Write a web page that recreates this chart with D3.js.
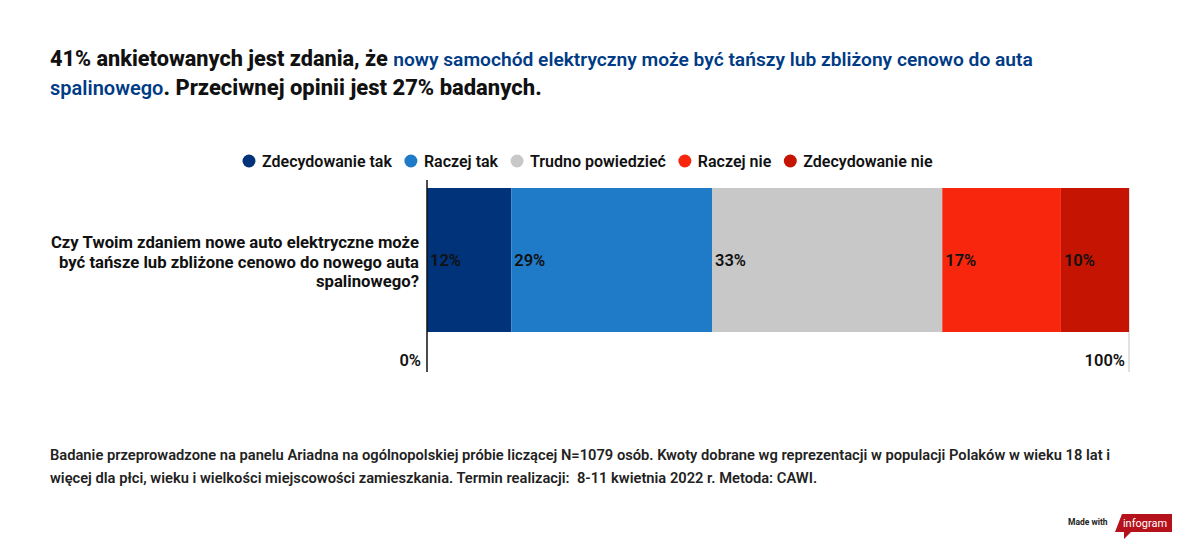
<!DOCTYPE html>
<html>
<head>
<meta charset="utf-8">
<script src="https://cdn.jsdelivr.net/npm/d3@7"></script>
<style>
  body { margin: 0; background: #fff; }
  svg { font-family: Roboto, "Noto Sans", sans-serif; }
  text { white-space: pre; }
</style>
</head>
<body>
<svg id="chart" width="1200" height="547"></svg>
<script>
const categories = ["Czy Twoim zdaniem nowe auto elektryczne może być tańsze lub zbliżone cenowo do nowego auta spalinowego?"];
const seriesNames = ["Zdecydowanie tak", "Raczej tak", "Trudno powiedzieć", "Raczej nie", "Zdecydowanie nie"];
const seriesValues = [12, 28.6, 32.8, 16.9, 9.7];
const seriesColors = ["#00337a", "#1f7ac8", "#c8c8c8", "#f9260e", "#c61402"];
const tickLabels = ["0%", "100%"];
const categoryLines = ["Czy Twoim zdaniem nowe auto elektryczne może", "być tańsze lub zbliżone cenowo do nowego auta", "spalinowego?"];

const svg = d3.select("#chart");

// Title
const title = svg.append("text").attr("x", 50).attr("y", 66)
  .attr("font-size", 20).attr("font-weight", 800).attr("fill", "#111");
title.append("tspan").attr("font-size", 21.7).text("41% ankietowanych jest zdania, że ");
title.append("tspan").attr("fill", "#003b85").attr("font-size", 19.2).attr("font-weight", 650).text("nowy samochód elektryczny może być tańszy lub zbliżony cenowo do auta");
const title2 = svg.append("text").attr("x", 50).attr("y", 95)
  .attr("font-size", 20).attr("font-weight", 800).attr("fill", "#111");
title2.append("tspan").attr("fill", "#003b85").attr("font-weight", 650).text("spalinowego");
title2.append("tspan").attr("font-size", 22).text(". Przeciwnej opinii jest 27% badanych.");

// Legend
const legend = svg.append("g");
let lx = 249;
seriesNames.forEach((name, i) => {
  legend.append("circle").attr("cx", lx).attr("cy", 161).attr("r", 6.5).attr("fill", seriesColors[i]);
  const t = legend.append("text").attr("x", lx + 13).attr("y", 167)
    .attr("font-size", 16).attr("font-weight", 600).attr("fill", "#111").text(name);
  lx += 13 + t.node().getComputedTextLength() + 19;
});

// Scales
const x = d3.scaleLinear().domain([0, 100]).range([427, 1129]);
const y = d3.scaleBand().domain(categories).range([188, 332]).padding(0);

// Stack
const row = {};
seriesNames.forEach((n, i) => row[n] = seriesValues[i]);
const stack = d3.stack().keys(seriesNames)([row]);

// Right gridline
svg.append("line").attr("x1", x(100)).attr("x2", x(100)).attr("y1", 188).attr("y2", 372)
  .attr("stroke", "#d9d9d9").attr("stroke-width", 1.5);

const bars = svg.append("g");
stack.forEach((s, i) => {
  const d = s[0];
  bars.append("rect")
    .attr("x", x(d[0])).attr("y", y(categories[0]))
    .attr("width", x(d[1]) - x(d[0])).attr("height", y.bandwidth())
    .attr("fill", seriesColors[i]);
  bars.append("text")
    .attr("x", x(d[0]) + 3).attr("y", y(categories[0]) + y.bandwidth() / 2 + 6)
    .attr("font-size", 16.5).attr("font-weight", 600).attr("fill", "#111")
    .text(d3.format(".0f")(d[1] - d[0]) + "%");
});

// Axis line
svg.append("line").attr("x1", x(0)).attr("x2", x(0)).attr("y1", 180).attr("y2", 372)
  .attr("stroke", "#111").attr("stroke-width", 1.5);

// Tick labels
svg.append("text").attr("x", x(0) - 6).attr("y", 366).attr("text-anchor", "end")
  .attr("font-size", 16.5).attr("font-weight", 600).attr("fill", "#111").text(tickLabels[0]);
svg.append("text").attr("x", x(100) - 4).attr("y", 366).attr("text-anchor", "end")
  .attr("font-size", 16.5).attr("font-weight", 600).attr("fill", "#111").text(tickLabels[1]);

// Category label
const cl = svg.append("text").attr("text-anchor", "end").attr("font-size", 16.7)
  .attr("font-weight", 700).attr("fill", "#111");
categoryLines.forEach((ln, i) => {
  cl.append("tspan").attr("x", 419).attr("y", 248 + i * 19.5).text(ln);
});

// Footnote
const fn = svg.append("text").attr("font-size", 14.7).attr("font-weight", 600).attr("fill", "#222");
fn.append("tspan").attr("x", 50).attr("y", 460).text("Badanie przeprowadzone na panelu Ariadna na ogólnopolskiej próbie liczącej N=1079 osób. Kwoty dobrane wg reprezentacji w populacji Polaków w wieku 18 lat i");
fn.append("tspan").attr("x", 50).attr("y", 483).text("więcej dla płci, wieku i wielkości miejscowości zamieszkania. Termin realizacji:  8-11 kwietnia 2022 r. Metoda: CAWI.");

// Made with infogram
svg.append("text").attr("x", 1068).attr("y", 525).attr("font-size", 8.5).attr("font-weight", 700)
  .attr("fill", "#222").text("Made with");
svg.append("path").attr("d", "M1122,514 L1172,514 L1172,532 L1131,532 L1124,539 L1124,532 L1115,532 Z")
  .attr("fill", "#b5121b");
svg.append("text").attr("x", 1145).attr("y", 527).attr("text-anchor", "middle").attr("font-size", 11)
  .attr("fill", "#fff").text("infogram");
</script>
</body>
</html>
